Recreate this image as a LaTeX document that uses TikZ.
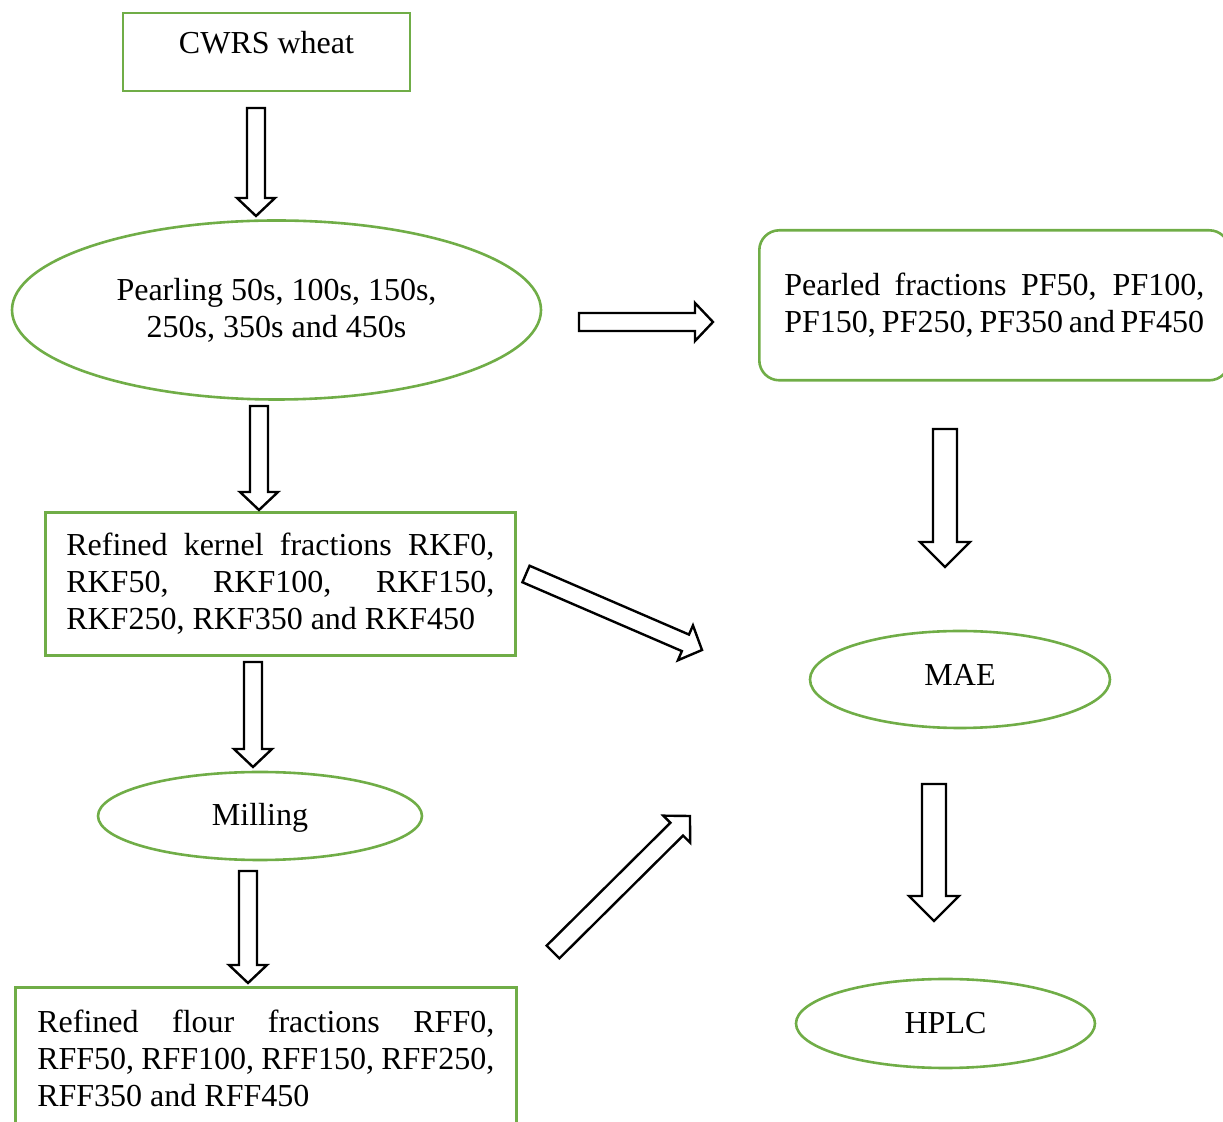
\documentclass[tikz,border=0pt]{standalone}
\usepackage{fontspec}
\setmainfont{Liberation Serif}
\usetikzlibrary{calc,shapes.geometric}
\definecolor{colG}{rgb}{.439,.678,.278}
\def\bodyw{4.5pt}\def\headw{9.5pt}\def\headl{9pt}
\tikzstyle{box}=[draw=colG, line width=1.3pt, rectangle, inner sep=0pt, font=\fontsize{16}{18.5}\selectfont]
\tikzstyle{oval}=[box, ellipse, align=center]
\tikzstyle{para}=[box, anchor=north west, align=justify]
\tikzstyle{barrow}=[draw=black, line width=1.2pt, fill=white, line join=miter, to path={
  let \p1=($(\tikztotarget)-(\tikztostart)$), \n1={atan2(\y1,\x1)}, \n2={veclen(\x1,\y1)} in
  ($(\tikztostart)+(\n1+90:\bodyw)$)
  -- ($(\tikztostart)+(\n1:\n2-\headl)+(\n1+90:\bodyw)$)
  -- ($(\tikztostart)+(\n1:\n2-\headl)+(\n1+90:\headw)$)
  -- (\tikztotarget)
  -- ($(\tikztostart)+(\n1:\n2-\headl)+(\n1-90:\headw)$)
  -- ($(\tikztostart)+(\n1:\n2-\headl)+(\n1-90:\bodyw)$)
  -- ($(\tikztostart)+(\n1-90:\bodyw)$) -- cycle}]
\tikzstyle{wide}=[/utils/exec={\def\bodyw{6pt}\def\headw{12.5pt}\def\headl{12.5pt}}]

\begin{document}
\begin{tikzpicture}[x=0.5pt,y=-0.5pt]
	\useasboundingbox (0,0) rectangle (1223,1122);
	% left column
	\node[box, minimum width=143.5pt, minimum height=39pt, text height=11pt, text depth=9.4pt] (cwrs) at (266.5,52) {CWRS wheat};
	\node[oval, minimum width=264.5pt, minimum height=89.5pt] (pearl) at (276.5,310) {Pearling 50s, 100s, 150s,\\250s, 350s and 450s};
	\node[para, inner xsep=10.5pt, text width=214pt, minimum height=71.5pt] (rkf) at (44,511) {Refined kernel fractions RKF0,\linebreak RKF50, RKF100, RKF150,\linebreak RKF250, RKF350 and RKF450};
	\node[oval, minimum width=162pt, minimum height=44pt, text height=11pt, text depth=1pt] (mill) at (260,816) {Milling};
	\node[para, inner xsep=11pt, text width=228.5pt, minimum height=71.5pt] (rff) at (14,986) {Refined flour fractions RFF0,\linebreak RFF50, RFF100, RFF150, RFF250,\linebreak RFF350 and RFF450};
	% right column
	\node[para, rounded corners=10pt, minimum width=235pt, text width=210pt, minimum height=75pt] (pf) at (758,229) {Pearled fractions PF50, PF100,\linebreak PF150, PF250, PF350 and PF450};
	\node[oval, minimum width=150pt, minimum height=48.5pt, text height=11pt, text depth=5pt] (mae) at (960,679.5) {MAE};
	\node[oval, minimum width=149.5pt, minimum height=44.5pt] (hplc) at (945.5,1023.5) {HPLC};
	% arrow ends
	\coordinate (a1s) at (256,108); \coordinate (a1e) at (256,216);
	\coordinate (a2s) at (259,406); \coordinate (a2e) at (259,510);
	\coordinate (a3s) at (253,662); \coordinate (a3e) at (253,767);
	\coordinate (a4s) at (248,871); \coordinate (a4e) at (248,983);
	\coordinate (a5s) at (579,322); \coordinate (a5e) at (713,322);
	\coordinate (a6s) at (945,429); \coordinate (a6e) at (945,567);
	\coordinate (a7s) at (934,784); \coordinate (a7e) at (934,921);
	\coordinate (a8s) at (526,574); \coordinate (a8e) at (702,650);
	\coordinate (a9s) at (553,952); \coordinate (a9e) at (690,816);
	\draw[barrow] (a1s) to (a1e);
	\draw[barrow] (a2s) to (a2e);
	\draw[barrow] (a3s) to (a3e);
	\draw[barrow] (a4s) to (a4e);
	\draw[barrow] (a5s) to (a5e);
	\draw[barrow,wide] (a6s) to (a6e);
	\draw[barrow,wide] (a7s) to (a7e);
	\draw[barrow] (a8s) to (a8e);
	\draw[barrow] (a9s) to (a9e);
\end{tikzpicture}
\end{document}
